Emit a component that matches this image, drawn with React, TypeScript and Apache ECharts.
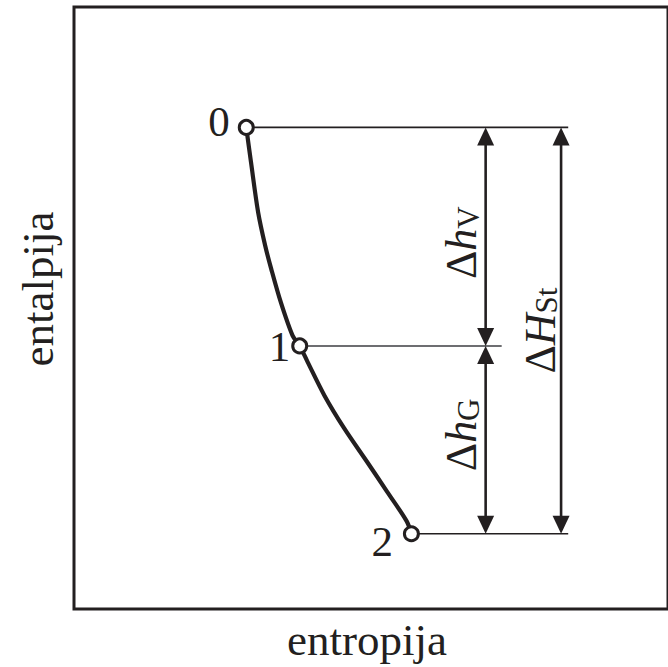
import React, { useEffect, useRef } from 'react';
import * as echarts from 'echarts';

// State points of the expansion (entropy s, enthalpy h), arbitrary units
const stateLabels = ['0', '1', '2'];
const stateEntropy = [2.9, 3.8, 5.68];
const stateEnthalpy = [8.0, 4.37, 1.25];

// Expansion line
const curveEntropy = [2.9, 2.98, 3.1, 3.22, 3.32, 3.48, 3.68, 3.8, 3.93, 4.22, 4.55, 4.93, 5.27, 5.6, 5.68];
const curveEnthalpy = [8.0, 7.42, 6.59, 6.03, 5.65, 5.1, 4.54, 4.37, 4.11, 3.54, 3.0, 2.45, 1.95, 1.46, 1.25];

// Entropy where each horizontal enthalpy-level line ends
const levelEnd = [8.32, 7.2, 8.32];

// Dimension arrows: entropy position, from enthalpy, to enthalpy, labels
const dimEntropy = [6.93, 6.93, 8.2];
const dimFrom = [8.0, 4.37, 8.0];
const dimTo = [4.37, 1.25, 1.25];
const dimSymbol = ['h', 'h', 'H'];
const dimSub = ['V', 'G', 'St'];

// Styling / layout (not data)
const ink = '#231f20';
const serif = "'Liberation Serif', 'Times New Roman', serif";
const levelColor = [ink, '#6d6e71', ink];
const levelWidth = [1.6, 2, 1.6];
const stateLabelOffset = [[-4, -6], [3, 1], [-6, 8]];
const dimLabelShift = [[-24, 6], [-24, -5], [-21, 0]];

export default function App() {
  const ref = useRef<HTMLDivElement>(null);
  useEffect(() => {
    const chart = echarts.init(ref.current!, null, { renderer: 'svg' });
    chart.setOption({
      animation: false,
      grid: {
        left: 74,
        top: 7,
        width: 600,
        height: 604,
        show: true,
        borderColor: ink,
        borderWidth: 3,
        backgroundColor: 'transparent',
      },
      xAxis: {
        type: 'value',
        min: 0,
        max: 10,
        name: 'entropija',
        nameLocation: 'middle',
        nameGap: 8,
        nameTextStyle: { fontFamily: serif, fontSize: 45, color: ink, padding: [0, 8, 0, 0] },
        axisLine: { show: false },
        axisTick: { show: false },
        axisLabel: { show: false },
        splitLine: { show: false },
      },
      yAxis: {
        type: 'value',
        min: 0,
        max: 10,
        name: 'entalpija',
        nameLocation: 'middle',
        nameGap: 14,
        nameTextStyle: { fontFamily: serif, fontSize: 45, color: ink, padding: [0, 0, 0, 38] },
        axisLine: { show: false },
        axisTick: { show: false },
        axisLabel: { show: false },
        splitLine: { show: false },
      },
      series: [
        {
          type: 'custom',
          z: 1,
          silent: true,
          data: stateEnthalpy.map((h, i) => [stateEntropy[i], h, levelEnd[i]]),
          encode: { x: [0, 2], y: 1 },
          renderItem: (params: any, api: any) => {
            const i = params.dataIndex;
            const a = api.coord([api.value(0), api.value(1)]);
            const b = api.coord([api.value(2), api.value(1)]);
            return {
              type: 'line',
              shape: { x1: a[0], y1: a[1], x2: b[0], y2: b[1] },
              style: { stroke: levelColor[i], lineWidth: levelWidth[i] },
            };
          },
        },
        {
          type: 'custom',
          z: 2,
          silent: true,
          data: dimEntropy.map((s, i) => [s, dimFrom[i], dimTo[i]]),
          encode: { x: 0, y: [1, 2] },
          renderItem: (params: any, api: any) => {
            const i = params.dataIndex;
            const top = api.coord([api.value(0), api.value(1)]);
            const bot = api.coord([api.value(0), api.value(2)]);
            const x = top[0];
            const hw = 8.5;
            const hl = 18;
            return {
              type: 'group',
              children: [
                {
                  type: 'line',
                  shape: { x1: x, y1: top[1] + 4, x2: x, y2: bot[1] - 4 },
                  style: { stroke: ink, lineWidth: 2.6 },
                },
                {
                  type: 'polygon',
                  shape: { points: [[x, top[1]], [x - hw, top[1] + hl], [x + hw, top[1] + hl]] },
                  style: { fill: ink },
                },
                {
                  type: 'polygon',
                  shape: { points: [[x, bot[1]], [x - hw, bot[1] - hl], [x + hw, bot[1] - hl]] },
                  style: { fill: ink },
                },
                {
                  type: 'text',
                  x: x + dimLabelShift[i][0],
                  y: (top[1] + bot[1]) / 2 + dimLabelShift[i][1],
                  rotation: Math.PI / 2,
                  style: {
                    text: `{d|Δ}{i|${dimSymbol[i]}}{s|${dimSub[i]}}`,
                    align: 'center',
                    verticalAlign: 'middle',
                    fill: ink,
                    rich: {
                      d: { fontFamily: serif, fontSize: 44, fill: ink },
                      i: { fontFamily: serif, fontSize: 44, fontStyle: 'italic', fill: ink },
                      s: { fontFamily: serif, fontSize: 31, fill: ink, verticalAlign: 'bottom' },
                    },
                  },
                },
              ],
            };
          },
        },
        {
          type: 'line',
          z: 2,
          silent: true,
          smooth: 0.3,
          symbol: 'none',
          data: curveEntropy.map((s, i) => [s, curveEnthalpy[i]]),
          lineStyle: { color: ink, width: 4.2 },
        },
        {
          type: 'scatter',
          z: 3,
          silent: true,
          symbol: 'circle',
          symbolSize: 14,
          itemStyle: { color: '#ffffff', borderColor: ink, borderWidth: 3, opacity: 1 },
          data: stateEntropy.map((s, i) => ({
            value: [s, stateEnthalpy[i]],
            label: { offset: stateLabelOffset[i] },
          })),
          label: {
            show: true,
            position: 'left',
            distance: 4,
            formatter: (p: any) => stateLabels[p.dataIndex],
            fontFamily: serif,
            fontSize: 43,
            color: ink,
          },
        },
      ],
    });
    return () => chart.dispose();
  }, []);
  return (
    <div
      ref={ref}
      style={{ position: 'absolute', left: 0, top: 0, width: 668, height: 667, background: '#fff' }}
    />
  );
}
